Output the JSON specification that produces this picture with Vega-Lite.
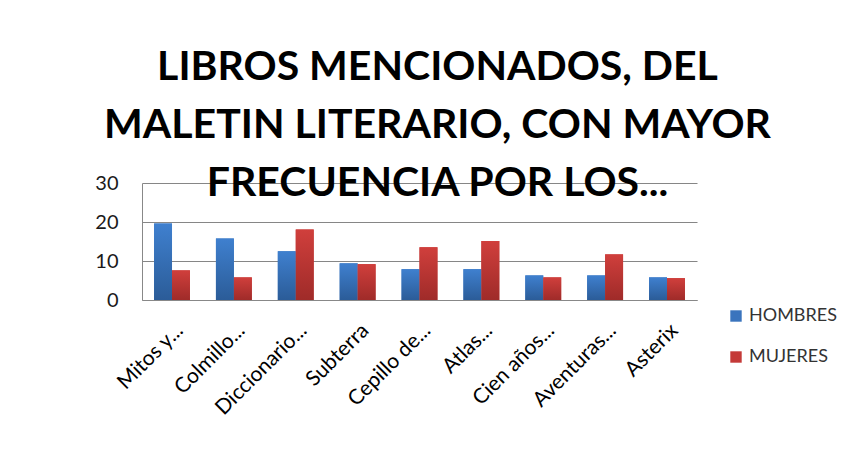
{
  "$schema": "https://vega.github.io/schema/vega-lite/v6.json",
  "width": 555,
  "height": 117,
  "autosize": "none",
  "padding": {"left": 142, "top": 183, "right": 151, "bottom": 155},
  "background": "white",
  "title": {
    "text": ["LIBROS MENCIONADOS, DEL", "MALETIN LITERARIO, CON MAYOR", "FRECUENCIA POR LOS..."],
    "font": "Lato",
    "fontSize": 41,
    "fontWeight": "bold",
    "color": "black",
    "lineHeight": 58,
    "anchor": "middle",
    "dx": 18,
    "offset": -73,
    "baseline": "bottom"
  },
  "data": {
    "values": [
      {"libro": "Mitos y...", "sexo": "HOMBRES", "valor": 19.6},
      {"libro": "Mitos y...", "sexo": "MUJERES", "valor": 7.6},
      {"libro": "Colmillo...", "sexo": "HOMBRES", "valor": 15.8},
      {"libro": "Colmillo...", "sexo": "MUJERES", "valor": 5.8},
      {"libro": "Diccionario...", "sexo": "HOMBRES", "valor": 12.5},
      {"libro": "Diccionario...", "sexo": "MUJERES", "valor": 18.1},
      {"libro": "Subterra", "sexo": "HOMBRES", "valor": 9.4},
      {"libro": "Subterra", "sexo": "MUJERES", "valor": 9.2},
      {"libro": "Cepillo de...", "sexo": "HOMBRES", "valor": 7.9},
      {"libro": "Cepillo de...", "sexo": "MUJERES", "valor": 13.5},
      {"libro": "Atlas...", "sexo": "HOMBRES", "valor": 7.9},
      {"libro": "Atlas...", "sexo": "MUJERES", "valor": 15.1},
      {"libro": "Cien años...", "sexo": "HOMBRES", "valor": 6.3},
      {"libro": "Cien años...", "sexo": "MUJERES", "valor": 5.8},
      {"libro": "Aventuras...", "sexo": "HOMBRES", "valor": 6.3},
      {"libro": "Aventuras...", "sexo": "MUJERES", "valor": 11.7},
      {"libro": "Asterix", "sexo": "HOMBRES", "valor": 5.8},
      {"libro": "Asterix", "sexo": "MUJERES", "valor": 5.6}
    ]
  },
  "encoding": {
    "x": {
      "field": "libro",
      "type": "nominal",
      "sort": null,
      "scale": {"paddingInner": 0.42, "paddingOuter": 0.195},
      "axis": {
        "title": null,
        "labelAngle": -45,
        "labelAlign": "right",
        "labelBaseline": "middle",
        "labelFont": "Lato",
        "labelFontSize": 21,
        "labelColor": "#000000",
        "labelPadding": 27,
        "labelOffset": 8,
        "labelLimit": 200,
        "ticks": false,
        "domainColor": "#888888",
        "domainWidth": 1.2
      }
    },
    "xOffset": {"field": "sexo", "type": "nominal"},
    "y": {
      "field": "valor",
      "type": "quantitative",
      "scale": {"domain": [0, 30], "nice": false},
      "axis": {
        "title": null,
        "values": [0, 10, 20, 30],
        "labelFont": "Lato",
        "labelFontSize": 20,
        "labelColor": "#1a1a1a",
        "labelPadding": 24,
        "ticks": false,
        "domainColor": "#888888",
        "gridColor": "#868686",
        "gridWidth": 1.2
      }
    }
  },
  "layer": [
    {
      "mark": {"type": "bar"},
      "encoding": {
        "color": {
          "field": "sexo",
          "type": "nominal",
          "scale": {"domain": ["HOMBRES", "MUJERES"], "range": ["#3A74BD", "#C43A38"]},
          "legend": {
            "title": null,
            "orient": "none",
            "legendX": 585,
            "legendY": 124,
            "symbolType": "square",
            "symbolSize": 130,
            "symbolStrokeWidth": 0,
            "labelFont": "Lato",
            "labelFontSize": 18,
            "labelColor": "#333333",
            "rowPadding": 23,
            "labelOffset": 4,
            "labelLimit": 200
          }
        }
      }
    },
    {
      "mark": {"type": "bar"},
      "encoding": {
        "fill": {
          "condition": {
            "test": "datum.sexo === 'HOMBRES'",
            "value": {
              "gradient": "linear", "x1": 0, "y1": 0, "x2": 0, "y2": 1,
              "stops": [{"offset": 0, "color": "#3F80CF"}, {"offset": 1, "color": "#2B5C98"}]
            }
          },
          "value": {
            "gradient": "linear", "x1": 0, "y1": 0, "x2": 0, "y2": 1,
            "stops": [{"offset": 0, "color": "#D03F3C"}, {"offset": 1, "color": "#9F2B29"}]
          }
        }
      }
    }
  ],
  "config": {"view": {"stroke": null}}
}
